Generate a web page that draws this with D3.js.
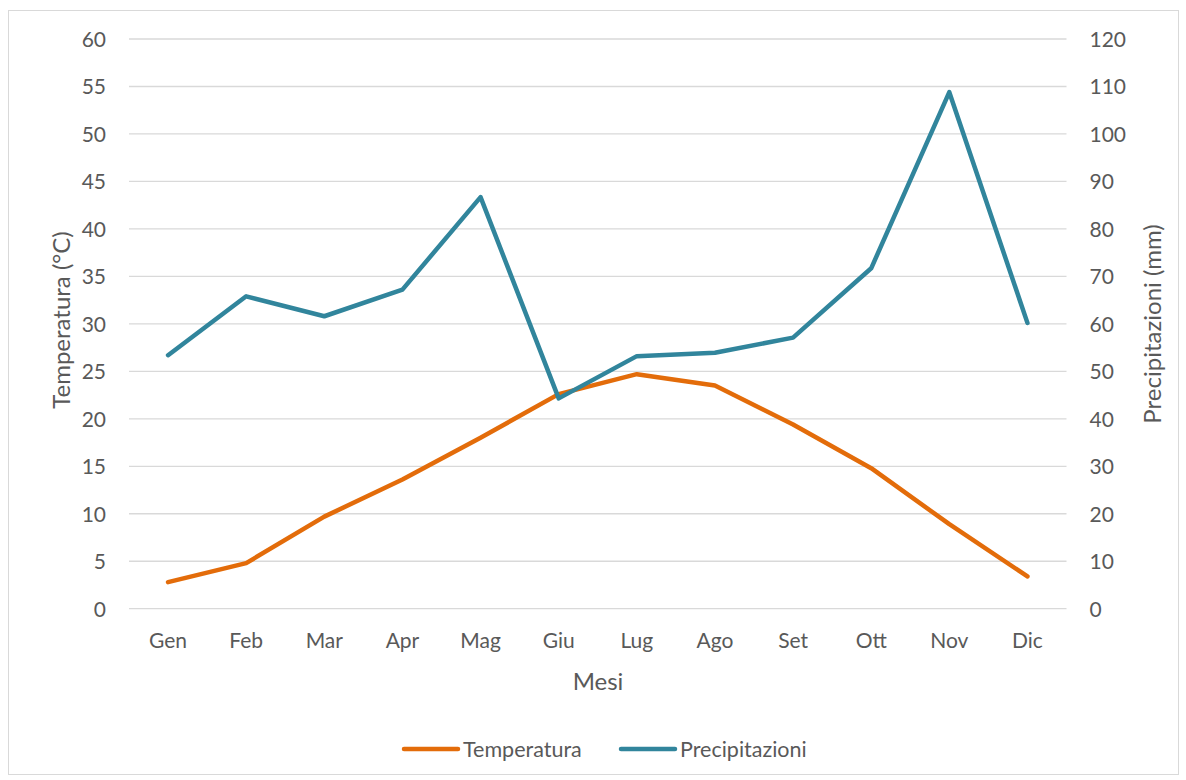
<!DOCTYPE html>
<html><head><meta charset="utf-8">
<script src="https://cdn.jsdelivr.net/npm/d3@7"></script>
<style>
body{margin:0;background:#fff;}
text{font-family:Lato,"Open Sans",sans-serif;fill:#595959;}
</style></head>
<body><svg id="c" width="1186" height="780"></svg>
<script>
const months = ["Gen","Feb","Mar","Apr","Mag","Giu","Lug","Ago","Set","Ott","Nov","Dic"];
const temperatura = [2.8,4.8,9.7,13.6,18.0,22.6,24.7,23.5,19.4,14.8,8.9,3.4];
const precipitazioni = [53.4,65.8,61.6,67.2,86.7,44.3,53.2,53.9,57.1,71.7,108.8,60.2];
const leftTicks = d3.range(0,61,5);
const rightTicks = d3.range(0,121,10);
const seriesNames = ["Temperatura","Precipitazioni"];
const colors = ["#E36C0A","#31859C"];

const svg = d3.select("#c");
svg.append("rect").attr("x",8.5).attr("y",10.5).attr("width",1170).attr("height",764)
  .attr("fill","#fff").attr("stroke","#d9d9d9").attr("stroke-width",1);

const L=129, R=1066.5, T=39, B=608.7;
const x = d3.scaleBand().domain(months).range([L,R]);
const yL = d3.scaleLinear().domain([0,60]).range([B,T]);
const yR = d3.scaleLinear().domain([0,120]).range([B,T]);

// gridlines
svg.append("g").selectAll("line").data(leftTicks).join("line")
  .attr("x1",L).attr("x2",R).attr("y1",d=>yL(d)).attr("y2",d=>yL(d))
  .attr("stroke","#d9d9d9").attr("stroke-width",1.3);

// left axis
const gl = svg.append("g").attr("transform",`translate(${L},0)`)
  .call(d3.axisLeft(yL).tickValues(leftTicks).tickSize(0).tickPadding(23));
gl.select(".domain").remove();
gl.selectAll("text").style("font-size","21px").attr("fill","#595959").attr("dy","0.35em");

// right axis
const gr = svg.append("g").attr("transform",`translate(${R},0)`)
  .call(d3.axisRight(yR).tickValues(rightTicks).tickSize(0).tickPadding(23));
gr.select(".domain").remove();
gr.selectAll("text").style("font-size","21px").attr("fill","#595959").attr("dy","0.35em");

// bottom axis
const gb = svg.append("g").attr("transform",`translate(0,${B})`)
  .call(d3.axisBottom(x).tickSize(0).tickPadding(24));
gb.select(".domain").remove();
gb.selectAll("text").style("font-size","21px").attr("fill","#595959");

// titles
svg.append("text").attr("x",598).attr("y",680).attr("text-anchor","middle")
  .attr("dominant-baseline","central").style("font-size","24px").text("Mesi");
svg.append("text").attr("transform","translate(60,320) rotate(-90)").attr("text-anchor","middle")
  .attr("dominant-baseline","central").style("font-size","24px").text("Temperatura (°C)");
svg.append("text").attr("transform","translate(1151,324) rotate(-90)").attr("text-anchor","middle")
  .attr("dominant-baseline","central").style("font-size","24px").text("Precipitazioni (mm)");

// lines
const cx = d=>x(d)+x.bandwidth()/2;
const lineL = d3.line().x((d,i)=>cx(months[i])).y(d=>yL(d));
const lineR = d3.line().x((d,i)=>cx(months[i])).y(d=>yR(d));
svg.append("path").datum(temperatura).attr("d",lineL).attr("fill","none")
  .attr("stroke",colors[0]).attr("stroke-width",4.5).attr("stroke-linejoin","round").attr("stroke-linecap","round");
svg.append("path").datum(precipitazioni).attr("d",lineR).attr("fill","none")
  .attr("stroke",colors[1]).attr("stroke-width",4.5).attr("stroke-linejoin","round").attr("stroke-linecap","round");

// legend
const legX = [404,621];
seriesNames.forEach((n,i)=>{
  svg.append("line").attr("x1",legX[i]).attr("x2",legX[i]+54).attr("y1",749).attr("y2",749)
    .attr("stroke",colors[i]).attr("stroke-width",4.5).attr("stroke-linecap","round");
  svg.append("text").attr("x",legX[i]+59).attr("y",749).attr("dominant-baseline","central")
    .style("font-size","21.5px").text(n);
});
</script></body></html>
